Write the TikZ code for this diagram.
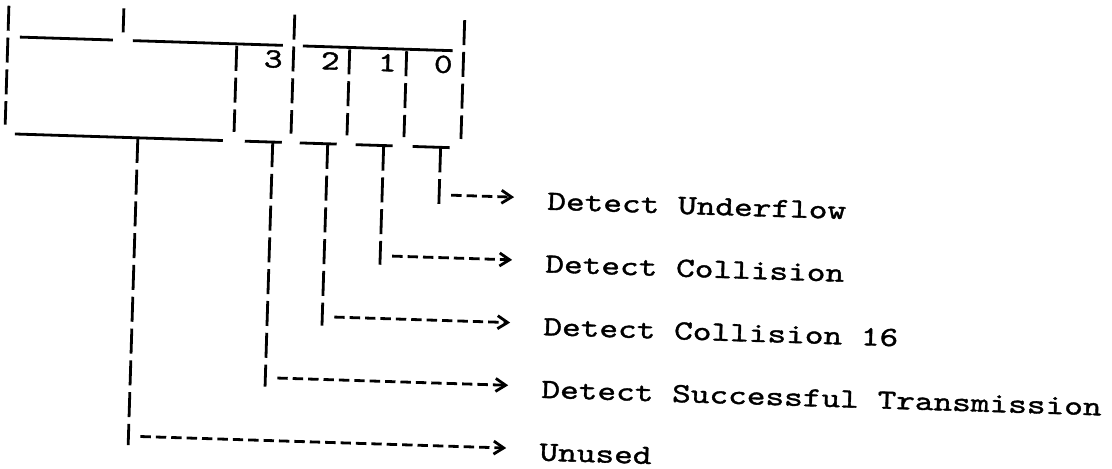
\documentclass[tikz,border=0pt]{standalone}
\usepackage{fontspec}
\usetikzlibrary{arrows.meta}
% typewriter face, widened to a Courier-like pitch and slightly darkened
\newfontfamily\typer{lmmono10-regular.otf}[FakeStretch=1.28, FakeBold=1.3]
\newcommand\typeface{\typer\fontsize{13.9pt}{16pt}\selectfont}
\begin{document}
\begin{tikzpicture}[x=0.5pt,y=-0.5pt,
  rule/.style={line width=1.4pt},
  cellrule/.style={line width=1.4pt, dash pattern=on 12.5pt off 3.4pt},
  stemline/.style={line width=1.4pt, dash pattern=on 12.5pt off 3.4pt},
  arrowline/.style={line width=1.4pt, dash pattern=on 5.2pt off 2.5pt,
    -{Straight Barb[length=5pt,width=6.5pt,sep=2pt]}, shorten >=14.5pt},
  bitlabel/.style={font=\typeface, inner sep=0pt, transform shape},
  flaglabel/.style={bitlabel, anchor=west, text height=11.5pt, text depth=0pt}]

\useasboundingbox (0,0) rectangle (1112,468);

\begin{scope}[rotate around={-1.8:(556,234)}]
  % register outline: top rule with its separators
  \draw[rule] (14,54) -- (107,54);
  \draw[rule] (127,54) -- (277,54);
  \draw[rule] (297,54) -- (447,54);
  \draw[rule] (117,22) -- (117,46);
  \draw[cellrule] (2,23) -- (2,142);
  \draw[cellrule] (288,23) -- (288,142);
  \draw[cellrule] (458,23) -- (458,142);
  % bit cell walls
  \draw[cellrule] (231,56) -- (231,142);
  \draw[cellrule] (344,56) -- (344,142);
  \draw[cellrule] (401,56) -- (401,142);

  % bit numbers
  \node[bitlabel] (n3) at (268,68) {3};
  \node[bitlabel] (n2) at (325,68) {2};
  \node[bitlabel] (n1) at (382,68) {1};
  \node[bitlabel] (n0) at (438,68) {0};

  % bottom rule and the bit taps
  \draw[rule] (12,151) -- (220,151);
  \foreach \s in {270,325,381,438}
    \draw[rule] (\s-28,151) -- (\s+9,151);

  % tap points and stem ends
  \coordinate (tu) at (135,151);
  \coordinate (t3) at (270,151);
  \coordinate (t2) at (325,151);
  \coordinate (t1) at (381,151);
  \coordinate (t0) at (438,151);
  \coordinate (bu) at (135,458.5);
  \coordinate (b3) at (270,395.75);
  \coordinate (b2) at (325,333);
  \coordinate (b1) at (381,270.25);
  \coordinate (b0) at (438,207.5);
  \coordinate (au) at (147,449.5);
  \coordinate (a3) at (282,386.75);
  \coordinate (a2) at (337,324);
  \coordinate (a1) at (393,261.25);
  \coordinate (a0) at (450,198.5);

  % flag descriptions
  \node[flaglabel] (l0) at (546,198.5) {Detect Underflow};
  \node[flaglabel] (l1) at (546,261.25) {Detect Collision};
  \node[flaglabel] (l2) at (546,324) {Detect Collision 16};
  \node[flaglabel] (l3) at (546,386.75) {Detect Successful Transmission};
  \node[flaglabel] (lu) at (546,449.5) {Unused};

  % stems
  \foreach \k in {u,3,2,1,0}
    \draw[stemline] (t\k) -- (b\k);
  % arrows to the descriptions
  \foreach \k in {u,3,2,1,0}
    \draw[arrowline] (a\k) -- (l\k.west);
\end{scope}
\end{tikzpicture}
\end{document}
